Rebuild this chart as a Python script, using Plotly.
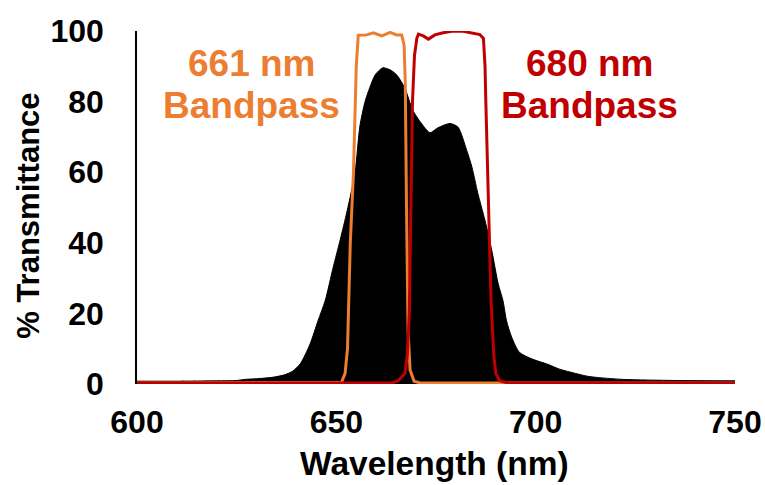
import plotly.graph_objects as go

# Sample transmission spectrum (black fill)
sample_nm = [600, 610, 620, 625, 627, 630, 634, 637, 639, 641, 643.4, 645.4, 647.2,
             649.2, 651, 652.7, 654.7, 655.9, 657.2, 658.4, 659.7, 660.9, 661.7,
             663.5, 665.2, 667.2, 669.2, 671.7, 673.5, 675.5, 678.5, 680.5, 682.7,
             684, 685.5, 687.3, 689, 690.6, 691.8, 692.7, 694, 696, 699.3, 703,
             706, 710, 713, 716, 722, 735, 750]
sample_T = [0.8, 0.8, 0.9, 1.0, 1.3, 1.5, 1.9, 2.6, 3.6, 5.8, 11.3, 17.9, 23.6,
            33, 41, 49, 60, 73, 80, 84, 87.5, 89, 89.6,
            89.0, 87.5, 83.8, 77.5, 73.3, 71.2, 72.6, 73.8, 72.8, 66.2,
            61.5, 54, 46.3, 37.8, 28.4, 23.6, 17.9, 13.2, 8.9, 7.0, 5.6,
            4.2, 3.0, 2.2, 1.8, 1.3, 1.0, 0.9]

# 661 nm bandpass filter
bp661_nm = [600, 650, 651.3, 652.2, 652.8, 653.5, 654.3, 655.0, 655.5, 657.6,
            659.3, 661.4, 663.5, 665.1, 666.4, 667.0, 667.3, 667.6, 668.0,
            668.5, 669.5, 671, 750]
bp661_T = [0.3, 0.3, 0.5, 3, 10, 40, 60, 90, 98.8, 98.9,
           99.5, 98.6, 99.6, 98.9, 98.9, 96, 85, 50, 15,
           4, 0.8, 0.3, 0.3]

# 680 nm bandpass filter
bp680_nm = [600, 664, 665.5, 667.2, 667.8, 668.3, 668.7, 669.1, 669.6, 670.2,
            670.6, 671.8, 673.1, 674.7, 676.8, 679.3, 681.8, 684.3, 686, 686.9,
            687.3, 687.5, 688.1, 688.8, 689.5, 690, 691, 693, 750]
bp680_T = [0.3, 0.3, 0.9, 3, 8, 20, 50, 80, 93, 98,
           99.1, 98.6, 97.7, 98.9, 99.5, 100, 99.9, 99.3, 99, 97.9,
           90, 80, 52, 23.6, 8, 3, 0.9, 0.3, 0.3]

x_ticks = [600, 650, 700, 750]
y_ticks = [0, 20, 40, 60, 80, 100]

ORANGE = "#ED7D31"
RED = "#C00000"
FONT = "Liberation Sans, Arial, sans-serif"

fig = go.Figure()
fig.add_trace(go.Scatter(x=sample_nm, y=sample_T, mode="lines", fill="tozeroy",
                         fillcolor="black",
                         line=dict(color="black", width=1, shape="spline", smoothing=0.7)))
fig.add_trace(go.Scatter(x=bp661_nm, y=bp661_T, mode="lines",
                         line=dict(color=ORANGE, width=3)))
fig.add_trace(go.Scatter(x=bp680_nm, y=bp680_T, mode="lines",
                         line=dict(color=RED, width=3)))


def note(text, x, y, size, color="black", angle=0):
    return dict(text=text, x=x, y=y, xref="paper", yref="paper", showarrow=False,
                xanchor="center", yanchor="middle", textangle=angle,
                font=dict(size=size, color=color, family=FONT))


fig.update_layout(
    width=765, height=485,
    margin=dict(l=137, r=30, t=31, b=101),
    paper_bgcolor="white", plot_bgcolor="white",
    showlegend=False,
    font=dict(family=FONT, color="black"),
    xaxis=dict(range=[600, 750], tickvals=x_ticks, showgrid=False, zeroline=False,
               showline=False, ticks="", ticklabelstandoff=16, automargin=False,
               tickfont=dict(size=32, family=FONT, weight="bold")),
    yaxis=dict(range=[0, 100], tickvals=y_ticks, showgrid=False, zeroline=False,
               showline=True, linecolor="black", linewidth=1.5, ticks="",
               ticklabelstandoff=25, automargin=False,
               tickfont=dict(size=32, family=FONT, weight="bold")),
    annotations=[
        note("<b>661 nm</b>", 0.192, 0.909, 37, ORANGE),
        note("<b>Bandpass</b>", 0.192, 0.79, 37, ORANGE),
        note("<b>680 nm</b>", 0.757, 0.909, 37, RED),
        note("<b>Bandpass</b>", 0.757, 0.79, 37, RED),
        note("<b>Wavelength (nm)</b>", 0.497, -0.224, 33.5),
        note("<b>% Transmittance</b>", -0.182, 0.477, 31, angle=-90),
    ],
)

fig.write_html("out.html")
